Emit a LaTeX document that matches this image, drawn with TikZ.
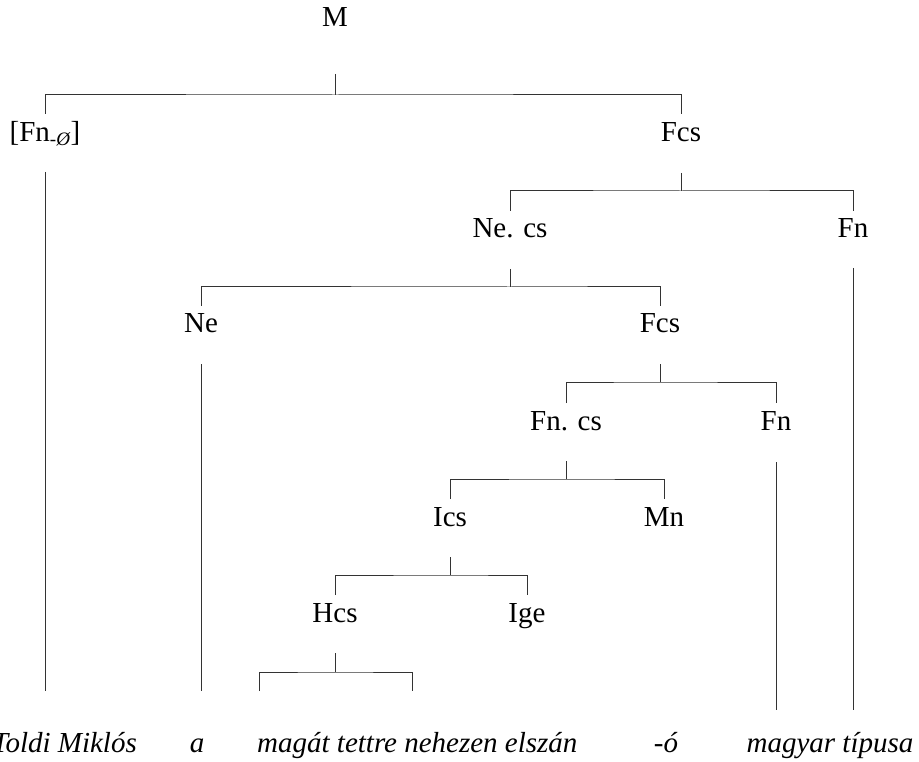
\documentclass[tikz,border=0pt]{standalone}
\usepackage{fontspec}
\setmainfont{Liberation Serif}
\usetikzlibrary{calc}
\newcommand\treebr[3]{%
  \draw[ln] ($(#1.base)+(0,31)$) -- ($(#1.base)+(0,49)$);
  \draw[ln] ($(#2.base)+(0,-27)$) |- ($(#1.base)+(0,49)$) -| ($(#3.base)+(0,-27)$);}
\begin{document}
\begin{tikzpicture}[x=1pt,y=-1pt,
  lbl/.style={anchor=base,inner sep=0pt,font=\fontsize{29}{34}\selectfont},
  word/.style={anchor=base,inner sep=0pt,font=\fontsize{29}{34}\selectfont\itshape},
  ln/.style={draw=black!80,line width=1pt}]
\useasboundingbox (0,0) rectangle (919,762);
% labels
\node[lbl] (M) at (335,27) {M};
\node[lbl] (Fn0) at (45,142) {[Fn\raisebox{-0.3ex}{\fontsize{19}{20}\selectfont -\textit{Ø}}]};
\node[lbl] (Fcs1) at (681,142) {Fcs};
\node[lbl] (Necs) at (510,238) {Ne. cs};
\node[lbl] (Fn1) at (853,238) {Fn};
\node[lbl] (Ne) at (201,333) {Ne};
\node[lbl] (Fcs2) at (660,333) {Fcs};
\node[lbl] (Fncs) at (566,430) {Fn. cs};
\node[lbl] (Fn2) at (776,430) {Fn};
\node[lbl] (Ics) at (450,526) {Ics};
\node[lbl] (Mn) at (664,526) {Mn};
\node[lbl] (Hcs) at (335,622) {Hcs};
\node[lbl] (Ige) at (527,622) {Ige};
% bottom words
\node[word,anchor=base east] (w1) at (137,752) {Toldi Miklós};
\node[word] (w2) at (197,752) {a};
\node[word,anchor=base west] (w3) at (257,752) {magát tettre nehezen elszán};
\node[word] (w4) at (666,752) {-ó};
\node[word] (w5) at (830,752) {magyar típusa};
% free ends
\coordinate (e1) at (45,691);
\coordinate (e2) at (201,691);
\coordinate (e3) at (776,710);
\coordinate (e4) at (853,710);
\coordinate (h1) at (259,691);
\coordinate (h2) at (412,691);
% top bracket
\draw[ln] ($(M.base)+(0,47)$) -- ($(M.base)+(0,68)$);
\draw[ln] ($(Fn0.base)+(0,-28)$) |- ($(M.base)+(0,68)$) -| ($(Fcs1.base)+(0,-28)$);
% inner brackets
\treebr{Fcs1}{Necs}{Fn1}
\treebr{Necs}{Ne}{Fcs2}
\treebr{Fcs2}{Fncs}{Fn2}
\treebr{Fncs}{Ics}{Mn}
\treebr{Ics}{Hcs}{Ige}
% bottom bracket
\draw[ln] ($(Hcs.base)+(0,31)$) -- ($(Hcs.base)+(0,50)$);
\draw[ln] (h1) |- ($(Hcs.base)+(0,50)$) -| (h2);
% long verticals
\draw[ln] ($(Fn0.base)+(0,30)$) -- (e1);
\draw[ln] ($(Ne.base)+(0,31)$) -- (e2);
\draw[ln] ($(Fn2.base)+(0,32)$) -- (e3);
\draw[ln] ($(Fn1.base)+(0,30)$) -- (e4);
\end{tikzpicture}
\end{document}
